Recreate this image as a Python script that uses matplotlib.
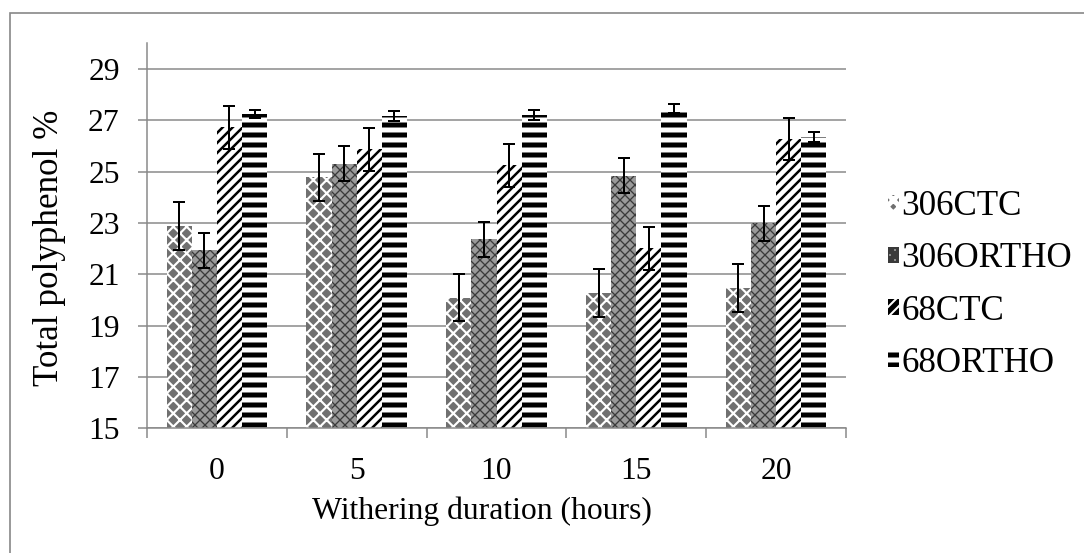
import matplotlib
matplotlib.use("Agg")
import matplotlib.pyplot as plt
import numpy as np
from matplotlib.patches import Rectangle

# ---- data ----
categories = ["0", "5", "10", "15", "20"]
series_names = ["306CTC", "306ORTHO", "68CTC", "68ORTHO"]
v_306ctc = [22.88, 24.78, 20.09, 20.28, 20.46]
v_306ortho = [21.94, 25.30, 22.37, 24.84, 22.99]
v_68ctc = [26.73, 25.87, 25.25, 22.01, 26.26]
v_68ortho = [27.24, 27.17, 27.21, 27.46, 26.36]
e_306ctc = [0.92, 0.92, 0.92, 0.93, 0.94]
e_306ortho = [0.68, 0.68, 0.68, 0.68, 0.68]
e_68ctc = [0.83, 0.83, 0.83, 0.84, 0.82]
e_68ortho = [0.16, 0.19, 0.19, 0.19, 0.19]
y_ticks = [15, 17, 19, 21, 23, 25, 27, 29]

values = [v_306ctc, v_306ortho, v_68ctc, v_68ortho]
errors = [e_306ctc, e_306ortho, e_68ctc, e_68ortho]

# styles: (facecolor, hatch, hatchcolor, hatch linewidth)
styles = [
    ("#707070", "xxx", "white", 1.3),
    ("#9a9a9a", "xxxx", "#3a3a3a", 0.8),
    ("white", "////", "black", 1.5),
    ("white", "--", "black", 3.0),
]

DPI = 120
plt.rcParams["font.family"] = ["Liberation Serif", "DejaVu Serif"]
fig = plt.figure(figsize=(1084 / DPI, 553 / DPI), dpi=DPI)
ax = fig.add_axes([147 / 1084, 1 - 428.3 / 553, (846 - 147) / 1084, (428.3 - 43.3) / 553])

grid_c = "#888888"
x = np.arange(len(categories))
bw = 0.18
handles = []
for i, (vals, errs, st) in enumerate(zip(values, errors, styles)):
    fc, hatch, hc, hlw = st
    plt.rcParams["hatch.linewidth"] = hlw
    pos = x + (i - 1.5) * bw
    bars = ax.bar(pos, np.array(vals) - 15, bottom=15, width=bw, color=fc,
                  edgecolor=hc, linewidth=0, hatch=hatch, zorder=2,
                  label=series_names[i])
    for b in bars:
        if hasattr(b, "set_hatch_linewidth"):
            b.set_hatch_linewidth(hlw)
    handles.append(bars)
    ax.errorbar(pos, vals, yerr=errs, fmt="none", ecolor="black",
                elinewidth=1.2, capsize=3.6, capthick=1.2, zorder=3)

ax.set_ylim(15, 30)
ax.set_xlim(-0.5, len(categories) - 0.5)
ax.set_yticks(y_ticks)
ax.set_yticklabels([str(t) for t in y_ticks])
ax.set_xticks(x)
ax.set_xticklabels(categories)
ax.set_xticks(np.arange(len(categories) + 1) - 0.5, minor=True)
ax.tick_params(axis="x", which="major", length=0, pad=17, labelsize=19)
ax.tick_params(axis="x", which="minor", length=6, width=0.9, color=grid_c, direction="out")
ax.tick_params(axis="y", length=5.4, width=0.9, color=grid_c, direction="out", pad=11, labelsize=19)

ax.yaxis.grid(True, color=grid_c, linewidth=0.9, zorder=0)
ax.set_axisbelow(True)
for s in ["top", "right"]:
    ax.spines[s].set_visible(False)
for s in ["left", "bottom"]:
    ax.spines[s].set_color(grid_c)
    ax.spines[s].set_linewidth(0.9)

ax.set_xlabel("Withering duration (hours)", fontsize=19)
ax.xaxis.set_label_coords((481.5 - 147) / 699, -(511 - 428.3) / 385, transform=ax.transAxes)
ax.xaxis.label.set_va("center")
ax.set_ylabel("Total polyphenol %", fontsize=21)
ax.yaxis.set_label_coords(-(147 - 50) / 699, (428.3 - 248) / 385, transform=ax.transAxes)
ax.yaxis.label.set_va("center")

leg = fig.legend(handles=handles, labels=series_names, loc="center left",
                 bbox_to_anchor=(888 / 1084, 1 - 285 / 553), frameon=False,
                 fontsize=21, handlelength=0.3, handleheight=0.32,
                 handletextpad=0.08, labelspacing=0.55, borderpad=0,
                 borderaxespad=0)

# outer chart frame (partly clipped like the reference)
fig.patches.append(Rectangle((10 / 1084, -0.2), 1.5, 1.2 - 13 / 553,
                             transform=fig.transFigure, fill=False,
                             edgecolor=grid_c, linewidth=1.0))

fig.savefig("out.png", dpi=DPI)
